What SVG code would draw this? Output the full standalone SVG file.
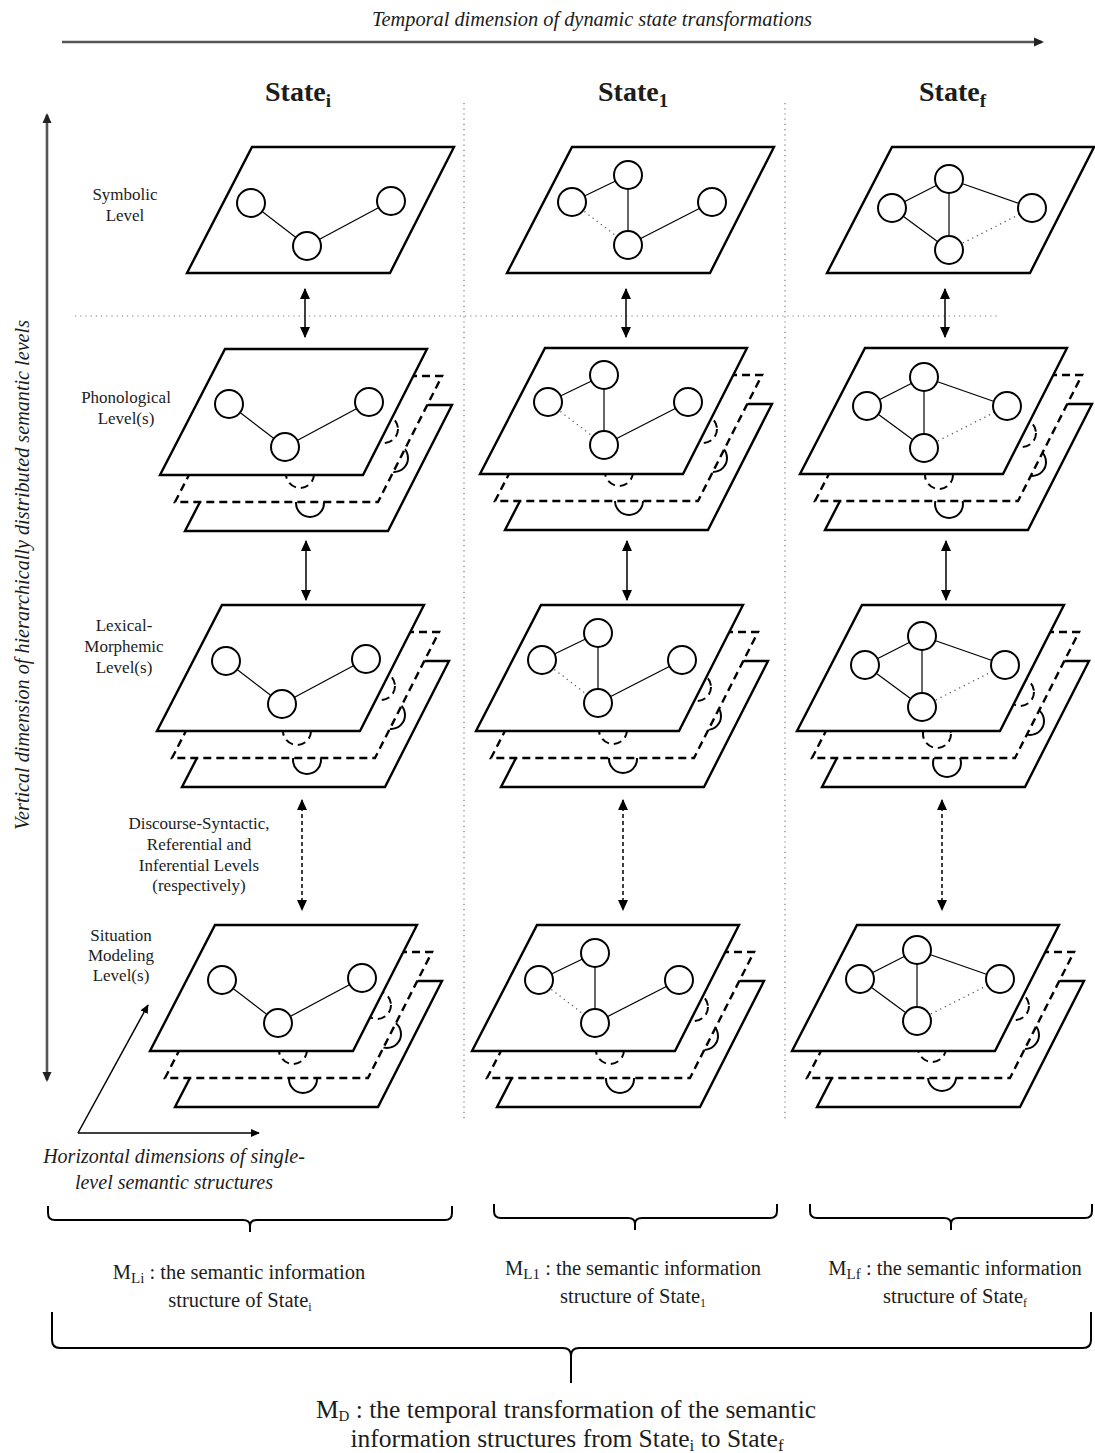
<svg xmlns="http://www.w3.org/2000/svg" xmlns:xlink="http://www.w3.org/1999/xlink" width="1095" height="1453" viewBox="0 0 1095 1453">
<style>
  text{font-family:"Liberation Serif","Times New Roman",serif;fill:#1c1c1c}
  .it{font-style:italic}
  .lvl{font-size:17px;text-anchor:middle}
  .st{font-size:28px;font-weight:bold}
  .cap{font-size:20.5px;text-anchor:middle}
  .capd{font-size:25.5px;text-anchor:middle}
  .pl{fill:#fff;stroke:#000;stroke-width:2.4;stroke-linejoin:miter}
  .nd{fill:#fff;stroke:#000;stroke-width:2}
  .ed{stroke:#000;stroke-width:1.2;fill:none}
  .dt{stroke:#555;stroke-width:1.3;stroke-dasharray:1.2 4;fill:none}
  .dash{stroke-dasharray:8 5}
  .sep{stroke:#777;stroke-width:1.2;stroke-dasharray:1.2 4;fill:none}
  .la{stroke:#000;stroke-width:1.5;fill:none}
  .lad{stroke:#000;stroke-width:1.5;fill:none;stroke-dasharray:4 3}
  .ga{stroke:#555;stroke-width:2.6;fill:none}
  .br{stroke:#000;stroke-width:2;fill:none}
</style>
<defs>
  <marker id="ah" viewBox="0 0 10 10" refX="9" refY="5" markerWidth="11" markerHeight="11" markerUnits="userSpaceOnUse" orient="auto-start-reverse">
    <path d="M0,0.5 L10,5 L0,9.5 z" fill="#000"/>
  </marker>
  <marker id="ahs" viewBox="0 0 10 10" refX="9" refY="5" markerWidth="9" markerHeight="9" markerUnits="userSpaceOnUse" orient="auto-start-reverse">
    <path d="M0,0.5 L10,5 L0,9.5 z" fill="#000"/>
  </marker>
  <marker id="ahg" viewBox="0 0 10 10" refX="8" refY="5" markerWidth="10" markerHeight="10" markerUnits="userSpaceOnUse" orient="auto-start-reverse">
    <path d="M0,0.5 L10,5 L0,9.5 z" fill="#222"/>
  </marker>
  <polygon id="pl" class="pl" points="0,0 202,0 138,126 -65,126"/>
  <g id="gi">
    <line class="ed" x1="0" y1="0" x2="56" y2="43"/>
    <line class="ed" x1="56" y1="43" x2="140" y2="-2"/>
    <circle class="nd" cx="0" cy="0" r="14"/>
    <circle class="nd" cx="140" cy="-2" r="14"/>
    <circle class="nd" cx="56" cy="43" r="14"/>
  </g>
  <g id="g1">
    <line class="ed" x1="0" y1="0" x2="56" y2="-27"/>
    <line class="ed" x1="56" y1="-27" x2="56" y2="43"/>
    <line class="ed" x1="56" y1="43" x2="140" y2="0"/>
    <line class="dt" x1="0" y1="0" x2="56" y2="43"/>
    <circle class="nd" cx="0" cy="0" r="14"/>
    <circle class="nd" cx="56" cy="-27" r="14"/>
    <circle class="nd" cx="140" cy="0" r="14"/>
    <circle class="nd" cx="56" cy="43" r="14"/>
  </g>
  <g id="gf">
    <line class="ed" x1="0" y1="0" x2="57" y2="-29"/>
    <line class="ed" x1="57" y1="-29" x2="140" y2="0"/>
    <line class="ed" x1="57" y1="-29" x2="57" y2="42"/>
    <line class="ed" x1="0" y1="0" x2="57" y2="42"/>
    <line class="dt" x1="57" y1="42" x2="140" y2="0"/>
    <circle class="nd" cx="0" cy="0" r="14"/>
    <circle class="nd" cx="57" cy="-29" r="14"/>
    <circle class="nd" cx="140" cy="0" r="14"/>
    <circle class="nd" cx="57" cy="42" r="14"/>
  </g>
  <g id="Li2"><use href="#pl" x="225" y="349"/><use href="#gi" x="229" y="404"/></g>
  <g id="Li3"><use href="#pl" x="222" y="605"/><use href="#gi" x="226" y="661"/></g>
  <g id="Li4"><use href="#pl" x="215" y="925"/><use href="#gi" x="222" y="980"/></g>
  <g id="L12"><use href="#pl" x="545" y="348"/><use href="#g1" x="548" y="402"/></g>
  <g id="L13"><use href="#pl" x="541" y="605"/><use href="#g1" x="542" y="660"/></g>
  <g id="L14"><use href="#pl" x="537" y="925"/><use href="#g1" x="539" y="980"/></g>
  <g id="Lf2"><use href="#pl" x="865" y="348"/><use href="#gf" x="867" y="406"/></g>
  <g id="Lf3"><use href="#pl" x="862" y="605"/><use href="#gf" x="865" y="665"/></g>
  <g id="Lf4"><use href="#pl" x="857" y="925"/><use href="#gf" x="860" y="979"/></g>
</defs>

<rect width="1095" height="1453" fill="#fff"/>

<!-- separators -->
<g id="separators">
  <line class="sep" x1="464" y1="103" x2="464" y2="1122"/>
  <line class="sep" x1="785" y1="103" x2="785" y2="1122"/>
  <line class="sep" x1="75" y1="316" x2="997" y2="316"/>
</g>

<!-- axes -->
<g id="axes">
  <line class="ga" x1="62" y1="42" x2="1042" y2="42" marker-end="url(#ahg)"/>
  <text class="it" x="592" y="26" font-size="20" text-anchor="middle" textLength="440" lengthAdjust="spacingAndGlyphs">Temporal dimension of dynamic state transformations</text>
  <line class="ga" x1="47" y1="115" x2="47" y2="1080" marker-start="url(#ahg)" marker-end="url(#ahg)"/>
  <text class="it" transform="translate(29,575) rotate(-90)" font-size="20" text-anchor="middle" textLength="510" lengthAdjust="spacingAndGlyphs">Vertical dimension of hierarchically distributed semantic levels</text>
</g>

<!-- state headers -->
<g id="headers">
  <text class="st" x="265" y="101">State<tspan font-size="19" dy="6">i</tspan></text>
  <text class="st" x="598" y="101">State<tspan font-size="19" dy="6">1</tspan></text>
  <text class="st" x="919" y="101">State<tspan font-size="19" dy="6">f</tspan></text>
</g>

<!-- level labels -->
<g id="labels">
  <text class="lvl" x="125" y="200">Symbolic</text>
  <text class="lvl" x="125" y="221">Level</text>
  <text class="lvl" x="126" y="403">Phonological</text>
  <text class="lvl" x="126" y="424">Level(s)</text>
  <text class="lvl" x="124" y="631">Lexical-</text>
  <text class="lvl" x="124" y="652">Morphemic</text>
  <text class="lvl" x="124" y="673">Level(s)</text>
  <text class="lvl" x="199" y="829">Discourse-Syntactic,</text>
  <text class="lvl" x="199" y="850">Referential and</text>
  <text class="lvl" x="199" y="871">Inferential Levels</text>
  <text class="lvl" x="199" y="891">(respectively)</text>
  <text class="lvl" x="121" y="941">Situation</text>
  <text class="lvl" x="121" y="961">Modeling</text>
  <text class="lvl" x="121" y="981">Level(s)</text>
</g>

<!-- State i column -->
<g id="stateI-symbolic"><use href="#pl" x="252" y="147"/><use href="#gi" x="251" y="203"/></g>
<g id="stateI-phonological"><use href="#Li2" transform="translate(25,56)"/><use href="#Li2" class="dash" transform="translate(15,27)"/><use href="#Li2"/></g>
<g id="stateI-lexical"><use href="#Li3" transform="translate(25,56)"/><use href="#Li3" class="dash" transform="translate(15,27)"/><use href="#Li3"/></g>
<g id="stateI-situation"><use href="#Li4" transform="translate(25,56)"/><use href="#Li4" class="dash" transform="translate(15,27)"/><use href="#Li4"/></g>

<!-- State 1 column -->
<g id="state1-symbolic"><use href="#pl" x="572" y="147"/><use href="#g1" x="572" y="202"/></g>
<g id="state1-phonological"><use href="#L12" transform="translate(25,56)"/><use href="#L12" class="dash" transform="translate(15,27)"/><use href="#L12"/></g>
<g id="state1-lexical"><use href="#L13" transform="translate(25,56)"/><use href="#L13" class="dash" transform="translate(15,27)"/><use href="#L13"/></g>
<g id="state1-situation"><use href="#L14" transform="translate(25,56)"/><use href="#L14" class="dash" transform="translate(15,27)"/><use href="#L14"/></g>

<!-- State f column -->
<g id="stateF-symbolic"><use href="#pl" x="892" y="147"/><use href="#gf" x="892" y="208"/></g>
<g id="stateF-phonological"><use href="#Lf2" transform="translate(25,56)"/><use href="#Lf2" class="dash" transform="translate(15,27)"/><use href="#Lf2"/></g>
<g id="stateF-lexical"><use href="#Lf3" transform="translate(25,56)"/><use href="#Lf3" class="dash" transform="translate(15,27)"/><use href="#Lf3"/></g>
<g id="stateF-situation"><use href="#Lf4" transform="translate(25,56)"/><use href="#Lf4" class="dash" transform="translate(15,27)"/><use href="#Lf4"/></g>

<!-- connectors -->
<g id="connectors">
  <line class="la" x1="305" y1="289" x2="305" y2="337" marker-start="url(#ah)" marker-end="url(#ah)"/>
  <line class="la" x1="626" y1="289" x2="626" y2="337" marker-start="url(#ah)" marker-end="url(#ah)"/>
  <line class="la" x1="945" y1="289" x2="945" y2="337" marker-start="url(#ah)" marker-end="url(#ah)"/>
  <line class="la" x1="306" y1="541" x2="306" y2="600" marker-start="url(#ah)" marker-end="url(#ah)"/>
  <line class="la" x1="627" y1="541" x2="627" y2="600" marker-start="url(#ah)" marker-end="url(#ah)"/>
  <line class="la" x1="946" y1="541" x2="946" y2="600" marker-start="url(#ah)" marker-end="url(#ah)"/>
  <line class="lad" x1="302" y1="800" x2="302" y2="910" marker-start="url(#ah)" marker-end="url(#ah)"/>
  <line class="lad" x1="623" y1="800" x2="623" y2="910" marker-start="url(#ah)" marker-end="url(#ah)"/>
  <line class="lad" x1="942" y1="800" x2="942" y2="910" marker-start="url(#ah)" marker-end="url(#ah)"/>
  <line class="la" x1="78" y1="1133" x2="148" y2="1005" stroke-width="1.3" marker-end="url(#ahs)"/>
  <line class="la" x1="78" y1="1133" x2="259" y2="1133" stroke-width="1.3" marker-end="url(#ahs)"/>
</g>

<text class="it" x="174" y="1163" font-size="20" text-anchor="middle">Horizontal dimensions of single-</text>
<text class="it" x="174" y="1189" font-size="20" text-anchor="middle">level semantic structures</text>

<!-- braces -->
<g id="braces">
  <path class="br" d="M48,1206 L48,1213 Q48,1220 55,1220 L243,1220 Q250,1220 250,1226 L250,1232 M250,1226 Q250,1220 257,1220 L445,1220 Q452,1220 452,1213 L452,1206"/>
  <path class="br" d="M494,1204 L494,1211 Q494,1218 501,1218 L628,1218 Q635,1218 635,1224 L635,1230 M635,1224 Q635,1218 642,1218 L770,1218 Q777,1218 777,1211 L777,1204"/>
  <path class="br" d="M810,1204 L810,1211 Q810,1218 817,1218 L944,1218 Q951,1218 951,1224 L951,1230 M951,1224 Q951,1218 958,1218 L1085,1218 Q1092,1218 1092,1211 L1092,1204"/>
  <path class="br" d="M52,1312 L52,1340 Q52,1348 60,1348 L563,1348 Q571,1348 571,1356 L571,1383 M571,1356 Q571,1348 579,1348 L1083,1348 Q1091,1348 1091,1340 L1091,1312"/>
</g>

<g id="captions">
  <text class="cap" x="239" y="1279">M<tspan font-size="15" dy="4">Li</tspan><tspan dy="-4"> : the semantic information</tspan></text>
  <text class="cap" x="240" y="1307">structure of State<tspan font-size="12" dy="4">i</tspan></text>
  <text class="cap" x="633" y="1275">M<tspan font-size="15" dy="4">L1</tspan><tspan dy="-4"> : the semantic information</tspan></text>
  <text class="cap" x="633" y="1303">structure of State<tspan font-size="12" dy="4">1</tspan></text>
  <text class="cap" x="955" y="1275">M<tspan font-size="15" dy="4">Lf</tspan><tspan dy="-4"> : the semantic information</tspan></text>
  <text class="cap" x="955" y="1303">structure of State<tspan font-size="12" dy="4">f</tspan></text>
  <text class="capd" x="566" y="1418">M<tspan font-size="15" dy="3">D</tspan><tspan dy="-3"> : the temporal transformation of the semantic</tspan></text>
  <text class="capd" x="567" y="1447">information structures from State<tspan font-size="17" dy="4">i</tspan><tspan dy="-4"> to State</tspan><tspan font-size="17" dy="4">f</tspan></text>
</g>
</svg>
